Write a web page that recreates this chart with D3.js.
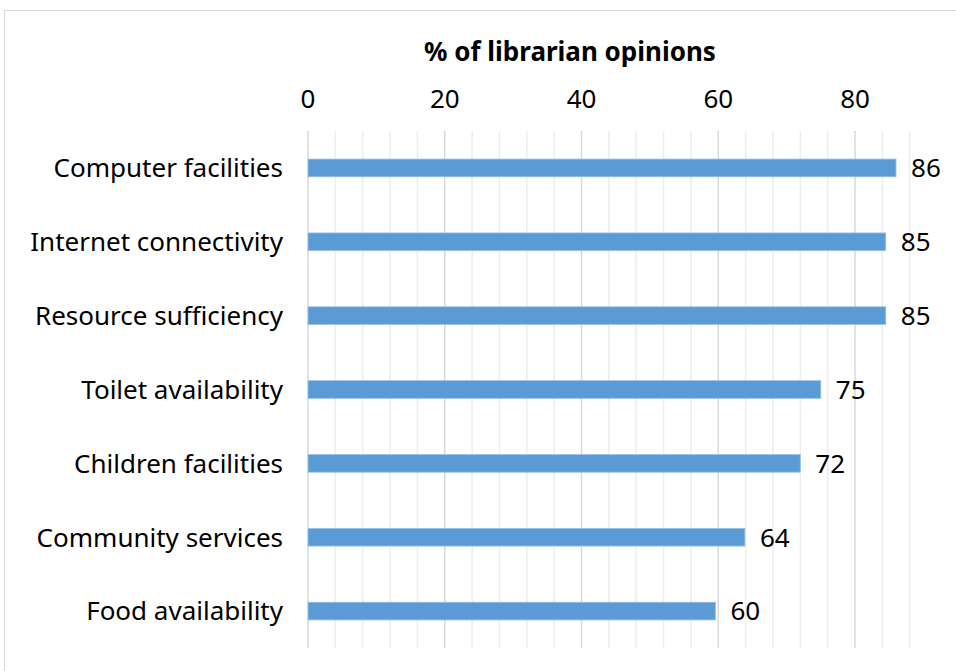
<!DOCTYPE html>
<html><head><meta charset="utf-8">
<script src="https://cdn.jsdelivr.net/npm/d3@7"></script>
<style>body{margin:0;background:#fff;font-family:"Noto Sans",sans-serif;}</style>
</head><body><svg id="c" width="956" height="671"></svg>
<script>
const categories = ["Computer facilities","Internet connectivity","Resource sufficiency","Toilet availability","Children facilities","Community services","Food availability"];
const values = [86,84.5,84.5,75,72,63.9,59.6];
const valueLabels = ["86","85","85","75","72","64","60"];
const majorTicks = [0,20,40,60,80];
const axisTitle = "% of librarian opinions";

const svg = d3.select("#c");
svg.append("rect").attr("x",4.5).attr("y",10.5).attr("width",960).attr("height",680)
  .attr("fill","#fff").attr("stroke","#d9d9d9");

const x = d3.scaleLinear().domain([0,88]).range([308,909.7]);
const y = d3.scaleBand().domain(categories).range([131,648]).paddingInner(0.76).paddingOuter(0.38);

const minor = d3.range(0,89,4);
svg.append("g").selectAll("line").data(minor.filter(d=>d%20!==0)).join("line")
  .attr("x1",d=>x(d)).attr("x2",d=>x(d)).attr("y1",131).attr("y2",648)
  .attr("stroke","#ededed").attr("stroke-width",1.5);
svg.append("g").selectAll("line").data(majorTicks).join("line")
  .attr("x1",d=>x(d)).attr("x2",d=>x(d)).attr("y1",131).attr("y2",648)
  .attr("stroke","#d9d9d9").attr("stroke-width",1.5);

svg.append("g").selectAll("text").data(majorTicks).join("text")
  .attr("x",d=>x(d)).attr("y",108).attr("text-anchor","middle")
  .attr("font-size",26).attr("fill","#000").text(d=>d);

svg.append("text").attr("x",570).attr("y",61).attr("text-anchor","middle")
  .attr("font-size",26).attr("font-weight","bold").text(axisTitle);

svg.append("g").selectAll("rect").data(values).join("rect")
  .attr("x",x(0)).attr("y",(d,i)=>y(categories[i]))
  .attr("width",d=>x(d)-x(0)).attr("height",y.bandwidth())
  .attr("fill","#5b9bd5").attr("stroke","#9dc3e6").attr("stroke-width",0.8);

svg.append("g").selectAll("text").data(values).join("text")
  .attr("x",d=>x(d)+15).attr("y",(d,i)=>y(categories[i])+y.bandwidth()/2)
  .attr("dy","0.36em").attr("font-size",26).text((d,i)=>valueLabels[i]);

svg.append("g").selectAll("text").data(categories).join("text")
  .attr("x",283).attr("y",d=>y(d)+y.bandwidth()/2).attr("dy","0.36em")
  .attr("text-anchor","end").attr("font-size",26).text(d=>d);
</script></body></html>
